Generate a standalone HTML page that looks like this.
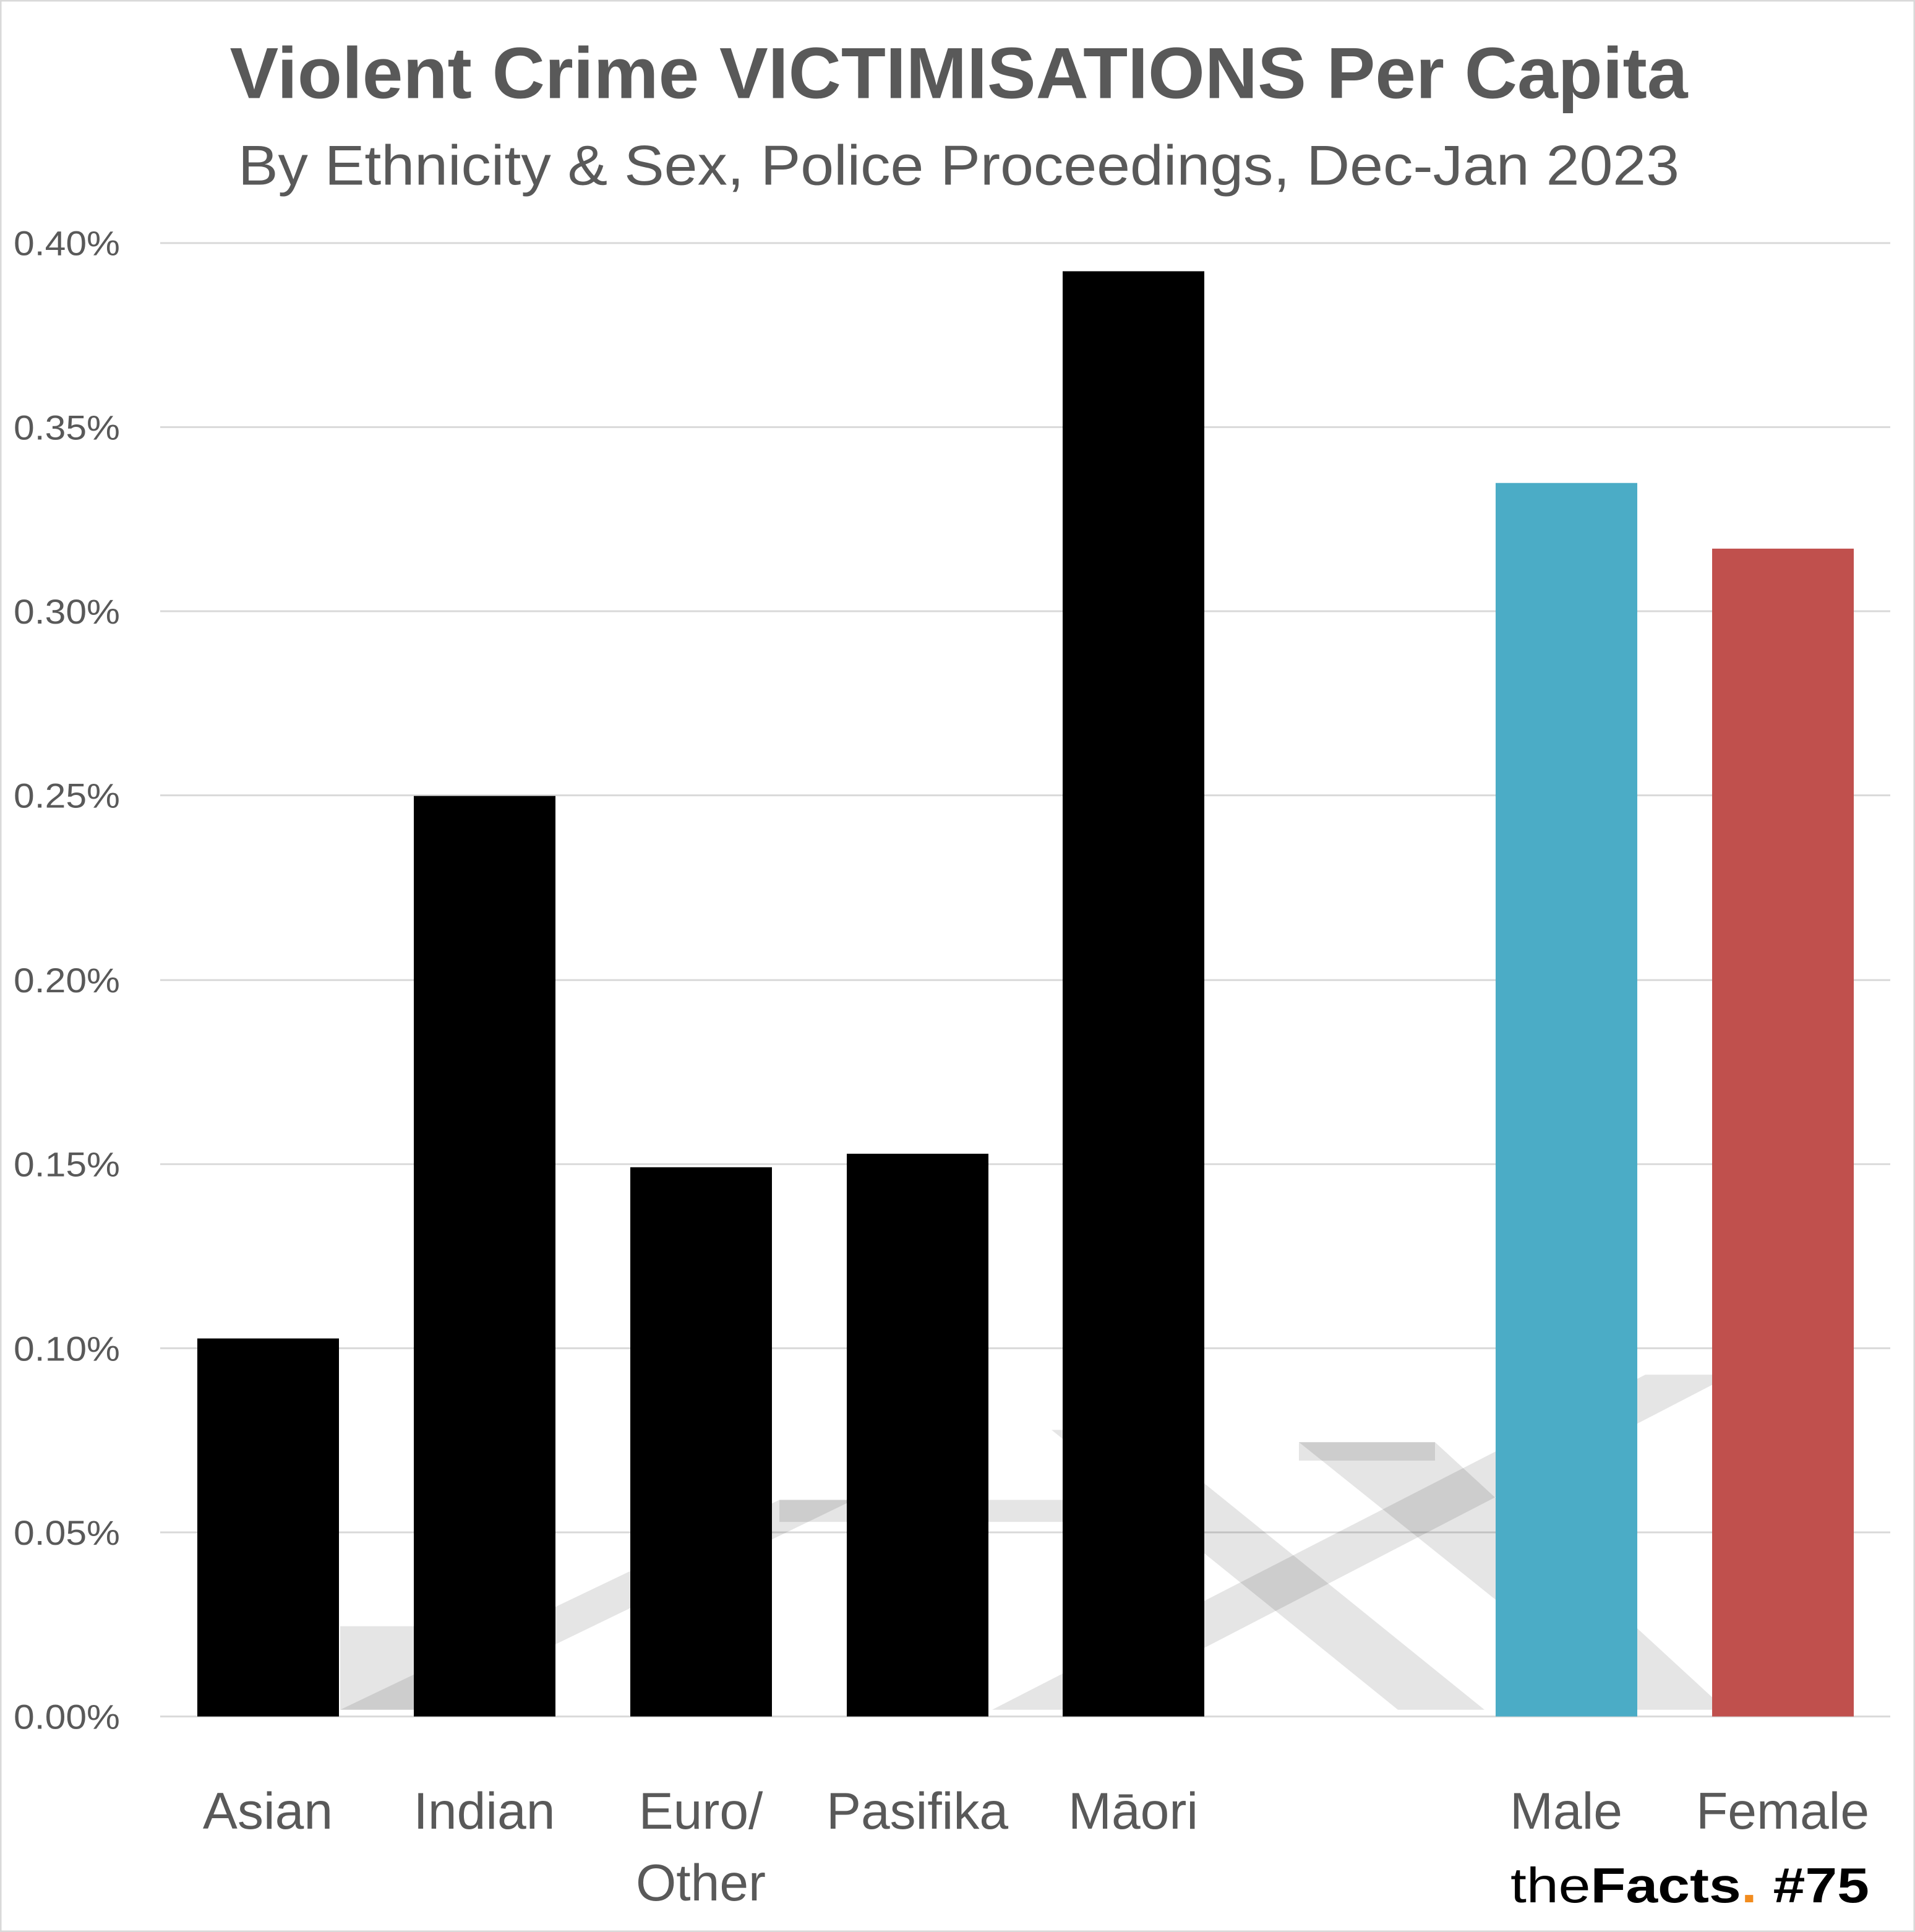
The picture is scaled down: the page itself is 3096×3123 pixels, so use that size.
<!DOCTYPE html>
<html><head><meta charset="utf-8"><style>
html,body{margin:0;padding:0;background:#fff}
svg{display:block}
</style></head><body>
<svg width="3096" height="3123" viewBox="0 0 3096 3123" xmlns="http://www.w3.org/2000/svg" font-family="'Liberation Sans', sans-serif">
<rect x="1" y="1" width="3094" height="3121" fill="#fff" stroke="#d9d9d9" stroke-width="3"/>
<g transform="scale(1,0.992)">
<text x="1550" y="160" text-anchor="middle" font-size="118" font-weight="bold" fill="#595959" textLength="2357" lengthAdjust="spacingAndGlyphs">Violent Crime VICTIMISATIONS Per Capita</text>
<text x="1550" y="301" text-anchor="middle" font-size="92" fill="#595959" textLength="2330" lengthAdjust="spacingAndGlyphs">By Ethnicity &amp; Sex, Police Proceedings, Dec-Jan 2023</text>
<g stroke="#d9d9d9" stroke-width="3">
<line x1="259" x2="3056" y1="396" y2="396"/>
<line x1="259" x2="3056" y1="696" y2="696"/>
<line x1="259" x2="3056" y1="996" y2="996"/>
<line x1="259" x2="3056" y1="1296" y2="1296"/>
<line x1="259" x2="3056" y1="1597" y2="1597"/>
<line x1="259" x2="3056" y1="1897" y2="1897"/>
<line x1="259" x2="3056" y1="2197" y2="2197"/>
<line x1="259" x2="3056" y1="2497" y2="2497"/>
<line x1="259" x2="3056" y1="2797" y2="2797"/>
</g>
<g fill="#595959" font-size="56">
<text x="22" y="416" textLength="172" lengthAdjust="spacingAndGlyphs">0.40%</text>
<text x="22" y="716" textLength="172" lengthAdjust="spacingAndGlyphs">0.35%</text>
<text x="22" y="1016" textLength="172" lengthAdjust="spacingAndGlyphs">0.30%</text>
<text x="22" y="1316" textLength="172" lengthAdjust="spacingAndGlyphs">0.25%</text>
<text x="22" y="1617" textLength="172" lengthAdjust="spacingAndGlyphs">0.20%</text>
<text x="22" y="1917" textLength="172" lengthAdjust="spacingAndGlyphs">0.15%</text>
<text x="22" y="2217" textLength="172" lengthAdjust="spacingAndGlyphs">0.10%</text>
<text x="22" y="2517" textLength="172" lengthAdjust="spacingAndGlyphs">0.05%</text>
<text x="22" y="2817" textLength="172" lengthAdjust="spacingAndGlyphs">0.00%</text>
</g>
<g fill="#000" fill-opacity="0.1">
<polygon points="550,2786 680,2786 1380,2444 1260,2444"/>
<polygon points="550,2650 670,2650 670,2786 550,2786"/>
<polygon points="1260,2444 1720,2444 1720,2480 1260,2480"/>
<polygon points="1604,2786 1754,2786 2800,2240 2660,2240"/>
<polygon points="1700,2330 1840,2330 2400,2786 2260,2786"/>
<polygon points="2100,2350 2320,2350 2790,2786 2640,2786"/>
<polygon points="2100,2350 2320,2350 2320,2380 2100,2380"/>
</g>
<g fill="#000">
<rect x="319" y="2181" width="229" height="616"/>
<rect x="669" y="1297" width="229" height="1500"/>
<rect x="1019" y="1902" width="229" height="895"/>
<rect x="1369" y="1880" width="229" height="917"/>
<rect x="1718" y="442" width="229" height="2355"/>
</g>
<rect x="2418" y="787" width="229" height="2010" fill="#4bacc6"/>
<rect x="2768" y="894" width="229" height="1903" fill="#c0504d"/>
<g fill="#595959" font-size="84" text-anchor="middle">
<text x="433" y="2980">Asian</text>
<text x="783" y="2980">Indian</text>
<text x="1133" y="2980">Euro/</text>
<text x="1133" y="3097">Other</text>
<text x="1483" y="2980">Pasifika</text>
<text x="1832" y="2980">Māori</text>
<text x="2532" y="2980">Male</text>
<text x="2882" y="2980">Female</text>
</g>
<text x="2442" y="3100" font-size="80" fill="#000" textLength="580" lengthAdjust="spacingAndGlyphs"><tspan>the</tspan><tspan font-weight="bold">Facts</tspan><tspan font-weight="bold" fill="#f28c1e">.</tspan><tspan font-weight="bold"> #75</tspan></text>
</g>
</svg>
</body></html>
